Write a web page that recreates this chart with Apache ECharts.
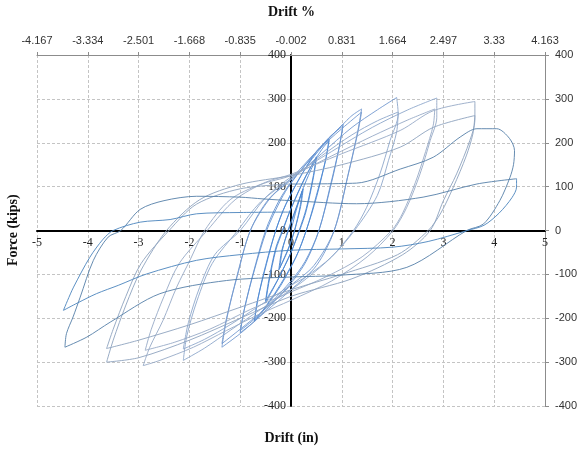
<!DOCTYPE html>
<html><head><meta charset="utf-8">
<script src="https://cdn.jsdelivr.net/npm/echarts@6/dist/echarts.min.js"></script>
<style>html,body{margin:0;padding:0;background:#fff}#c{width:583px;height:453px}</style>
</head><body><div id="c"></div>
<script>
// ---- axis ticks / labels ----
const driftInTicks = [-5,-4,-3,-2,-1,0,1,2,3,4,5];
const driftPctLabels = ['-4.167','-3.334','-2.501','-1.668','-0.835','-0.002','0.831','1.664','2.497','3.33','4.163'];
const forceMin = -400, forceMax = 400, forceStep = 100;

// ---- hysteresis cycles [drift (in), force (kips)] ----
const cycle025 = [[0,0],[0.1,45],[0.22,90],[0.18,55],[0.07,0],[-0.05,-40],[-0.22,-85],[-0.17,-45],[-0.06,0],[0.08,45],[0.24,95],[0.19,55],[0.07,0],[-0.06,-45],[-0.24,-90],[-0.18,-45],[-0.05,0],[0.1,50],[0.25,100]];
const cycle050 = [[0.25,100],[0.38,135],[0.5,165],[0.44,120],[0.3,45],[0.17,0],[0,-50],[-0.25,-110],[-0.5,-160],[-0.44,-115],[-0.3,-40],[-0.17,0],[0,50],[0.25,115],[0.5,168],[0.44,125],[0.3,50],[0.16,0],[0,-50],[-0.25,-110],[-0.5,-165],[-0.43,-115],[-0.3,-45],[-0.16,0],[0,50],[0.3,125],[0.52,170]];
const cycle075 = [[0.52,170],[0.64,190],[0.75,205],[0.68,160],[0.5,80],[0.3,0],[0.1,-60],[-0.2,-125],[-0.5,-175],[-0.72,-205],[-0.66,-160],[-0.5,-80],[-0.3,0],[-0.1,60],[0.2,125],[0.5,180],[0.75,208],[0.68,160],[0.5,75],[0.3,0],[0.1,-60],[-0.3,-140],[-0.72,-208],[-0.65,-155],[-0.48,-75],[-0.3,0],[-0.1,60],[0.3,145],[0.75,210]];
const cycle100 = [[0.75,210],[0.9,228],[1.03,243],[0.95,190],[0.8,110],[0.55,0],[0.3,-70],[0,-120],[-0.4,-170],[-0.75,-210],[-1.0,-233],[-0.92,-180],[-0.75,-100],[-0.5,0],[-0.25,65],[0,110],[0.4,165],[0.75,212],[1.02,238],[0.94,185],[0.78,105],[0.55,0],[0.28,-70],[0,-115],[-0.4,-165],[-0.75,-205],[-1.0,-228],[-0.9,-170],[-0.72,-90],[-0.48,0],[-0.2,70],[0,108],[0.5,180],[1.03,243]];
const cycle140 = [[1.03,243],[1.2,262],[1.39,277],[1.32,230],[1.15,140],[0.85,0],[0.5,-80],[0,-135],[-0.5,-185],[-1.0,-235],[-1.36,-266],[-1.28,-210],[-1.1,-120],[-0.8,0],[-0.45,70],[0,118],[0.5,180],[1.0,232],[1.39,270],[1.31,220],[1.12,125],[0.85,0],[0.45,-80],[0,-125],[-0.5,-178],[-1.0,-225],[-1.36,-258],[-1.27,-200],[-1.06,-105],[-0.8,0],[-0.4,75],[0,115],[0.6,175],[1.2,235],[1.7,275],[2.08,303]];
const cycle210 = [[2.08,303],[2.11,266],[1.95,205],[1.75,129],[1.49,53],[1.23,0],[0.8,-60],[0.3,-110],[0,-135],[-0.6,-180],[-1.2,-228],[-1.7,-268],[-2.12,-296],[-2.05,-240],[-1.85,-160],[-1.55,-75],[-1.05,0],[-0.6,65],[0,118],[0.6,170],[1.2,218],[1.7,250],[2.11,270],[2.08,225],[1.92,160],[1.7,80],[1.25,0],[0.8,-60],[0.3,-105],[0,-125],[-0.6,-170],[-1.2,-215],[-1.7,-248],[-2.12,-270],[-2.02,-210],[-1.8,-130],[-1.5,-55],[-1.0,0],[-0.5,75],[0,122],[0.8,180],[1.6,235],[2.3,275],[2.87,302]];
const cycle290 = [[2.87,302],[2.87,258],[2.74,205],[2.54,129],[2.28,53],[2.01,0],[1.5,-60],[0.8,-115],[0,-159],[-0.61,-190],[-1.27,-228],[-1.92,-266],[-2.58,-296],[-2.91,-308],[-2.78,-266],[-2.52,-205],[-2.25,-129],[-1.99,-68],[-1.7,0],[-1.2,70],[-0.6,105],[0,125],[0.8,170],[1.6,215],[2.3,252],[2.83,277],[2.8,240],[2.65,180],[2.45,110],[2.2,40],[1.98,0],[1.4,-60],[0.7,-105],[0,-140],[-0.8,-180],[-1.6,-225],[-2.3,-255],[-2.87,-273],[-2.75,-225],[-2.5,-150],[-2.2,-75],[-1.65,0],[-1.1,70],[-0.5,110],[0,128],[1.0,175],[2.15,228],[2.8,273],[3.62,294]];
const cycle360 = [[3.62,294],[3.62,251],[3.52,205],[3.26,129],[3.0,68],[2.74,0],[2.2,-55],[1.2,-110],[0,-150],[-1.0,-200],[-2.0,-250],[-3.0,-290],[-3.63,-300],[-3.5,-250],[-3.25,-170],[-2.95,-90],[-2.45,0],[-1.8,70],[-1.0,105],[0,125],[1.0,150],[2.15,190],[2.8,235],[3.62,262],[3.58,220],[3.45,170],[3.2,100],[2.95,40],[2.7,0],[2.1,-55],[1.0,-100],[0,-135],[-1.0,-175],[-2.0,-215],[-3.0,-250],[-3.63,-269],[-3.5,-225],[-3.25,-150],[-2.95,-75],[-2.4,0],[-1.86,60],[-1.0,95],[0,106]];
const cycle440a = [[0,106],[1.29,108],[2.15,140],[2.8,167],[3.33,213],[3.66,232],[4.05,232],[4.3,210],[4.4,182],[4.38,150],[4.31,121],[4.11,68],[3.79,15],[3.46,0],[2.28,-84],[0.96,-102],[0,-106],[-1.27,-114],[-2.58,-144],[-3.56,-209],[-4.02,-243],[-4.45,-266],[-4.42,-235],[-4.29,-197],[-4.15,-152],[-3.89,-68],[-3.6,-15],[-3.35,0],[-2.97,48],[-2.5,68],[-1.86,78],[-1.0,76],[-0.55,72],[0,68],[1.29,61],[2.6,76],[3.66,106],[4.44,118]];
const cycle440b = [[4.44,118],[4.44,99],[4.35,75],[4.1,40],[3.8,12],[3.47,0],[2.7,-25],[2.0,-38],[1.0,-42],[0,-45],[-1.0,-55],[-1.86,-68],[-2.84,-99],[-3.4,-125],[-3.83,-144],[-4.2,-165],[-4.48,-182],[-4.4,-160],[-4.28,-129],[-3.96,-61],[-3.7,-20],[-3.5,0],[-2.97,19],[-2.38,25],[-1.86,38],[-1.0,41],[0,42]];

const cycles = [cycle025, cycle050, cycle075, cycle100, cycle140, cycle210, cycle290, cycle360, cycle440a, cycle440b];
const cycleColors = ['#4a86d2','#4a86d2','#4f8ad4','#6694d2','#7399cf','#8ea7cb','#97aac6','#8ea3bf','#557fa9','#4a84bd'];

const serif = '"Liberation Serif","DejaVu Serif",serif';
const sans = '"Liberation Sans","DejaVu Sans",sans-serif';

const W = 583, H = 453;
const gridL = 37, gridR = 38, gridT = 55, gridB = 47;
const plotW = W - gridL - gridR, plotH = H - gridT - gridB;
// offsets that bring the main axes onto the x = 0 / y = 0 lines
const xZeroShift = -plotH * (forceMax / (forceMax - forceMin));
const yZeroShift = -plotW * ((0 - driftInTicks[0]) / (driftInTicks[driftInTicks.length - 1] - driftInTicks[0]));

const chart = echarts.init(document.getElementById('c'), null, {renderer: 'canvas'});
chart.setOption({
  animation: false,
  backgroundColor: '#fff',
  grid: {left: gridL, right: gridR, top: gridT, bottom: gridB, containLabel: false},
  graphic: [
    {type: 'text', left: 'center', top: 5, style: {text: 'Drift %', font: 'bold 14px ' + serif, fill: '#111'}},
    {type: 'text', left: 'center', top: 431, style: {text: 'Drift (in)', font: 'bold 14px ' + serif, fill: '#111'}},
    {type: 'text', x: 6, y: 266, rotation: Math.PI / 2, style: {text: 'Force (kips)', font: 'bold 14px ' + serif, fill: '#111'}}
  ],
  xAxis: [
    {
      type: 'value', min: driftInTicks[0], max: driftInTicks[driftInTicks.length - 1], interval: 1, position: 'bottom',
      offset: xZeroShift,
      axisLine: {show: true, onZero: false, lineStyle: {color: '#000', width: 2}},
      axisTick: {show: false},
      axisLabel: {color: '#222', fontFamily: serif, fontSize: 12, margin: 6, showMinLabel: true, showMaxLabel: true},
      splitLine: {show: true, lineStyle: {color: '#c4c4c4', type: [3, 2], width: 1}}
    },
    {
      type: 'value', min: driftInTicks[0], max: driftInTicks[driftInTicks.length - 1], interval: 1, position: 'top',
      axisLine: {show: true, onZero: false, lineStyle: {color: '#8c8c8c', width: 1}},
      axisTick: {show: true, inside: false, length: 3, lineStyle: {color: '#8c8c8c'}},
      axisLabel: {color: '#333', fontFamily: sans, fontSize: 11, margin: 9,
        formatter: v => driftPctLabels[driftInTicks.indexOf(Math.round(v))] || ''},
      splitLine: {show: false}
    }
  ],
  yAxis: [
    {
      type: 'value', min: forceMin, max: forceMax, interval: forceStep, position: 'left',
      offset: yZeroShift,
      axisLine: {show: true, onZero: false, lineStyle: {color: '#000', width: 2}},
      axisTick: {show: false},
      axisLabel: {color: '#222', fontFamily: serif, fontSize: 12, margin: 5},
      splitLine: {show: true, lineStyle: {color: '#c4c4c4', type: [3, 2], width: 1}}
    },
    {
      type: 'value', min: forceMin, max: forceMax, interval: forceStep, position: 'right',
      axisLine: {show: true, onZero: false, lineStyle: {color: '#8c8c8c', width: 1}},
      axisTick: {show: true, inside: false, length: 4, lineStyle: {color: '#8c8c8c'}},
      axisLabel: {color: '#333', fontFamily: sans, fontSize: 11, margin: 10},
      splitLine: {show: false}
    }
  ],
  series: cycles.map((d, i) => ({
    type: 'line', xAxisIndex: 0, yAxisIndex: 0, data: d, smooth: 0.3,
    showSymbol: false, symbol: 'none', silent: true, z: 3,
    lineStyle: {color: cycleColors[i], width: 1, opacity: 0.9}
  }))
});
</script></body></html>
